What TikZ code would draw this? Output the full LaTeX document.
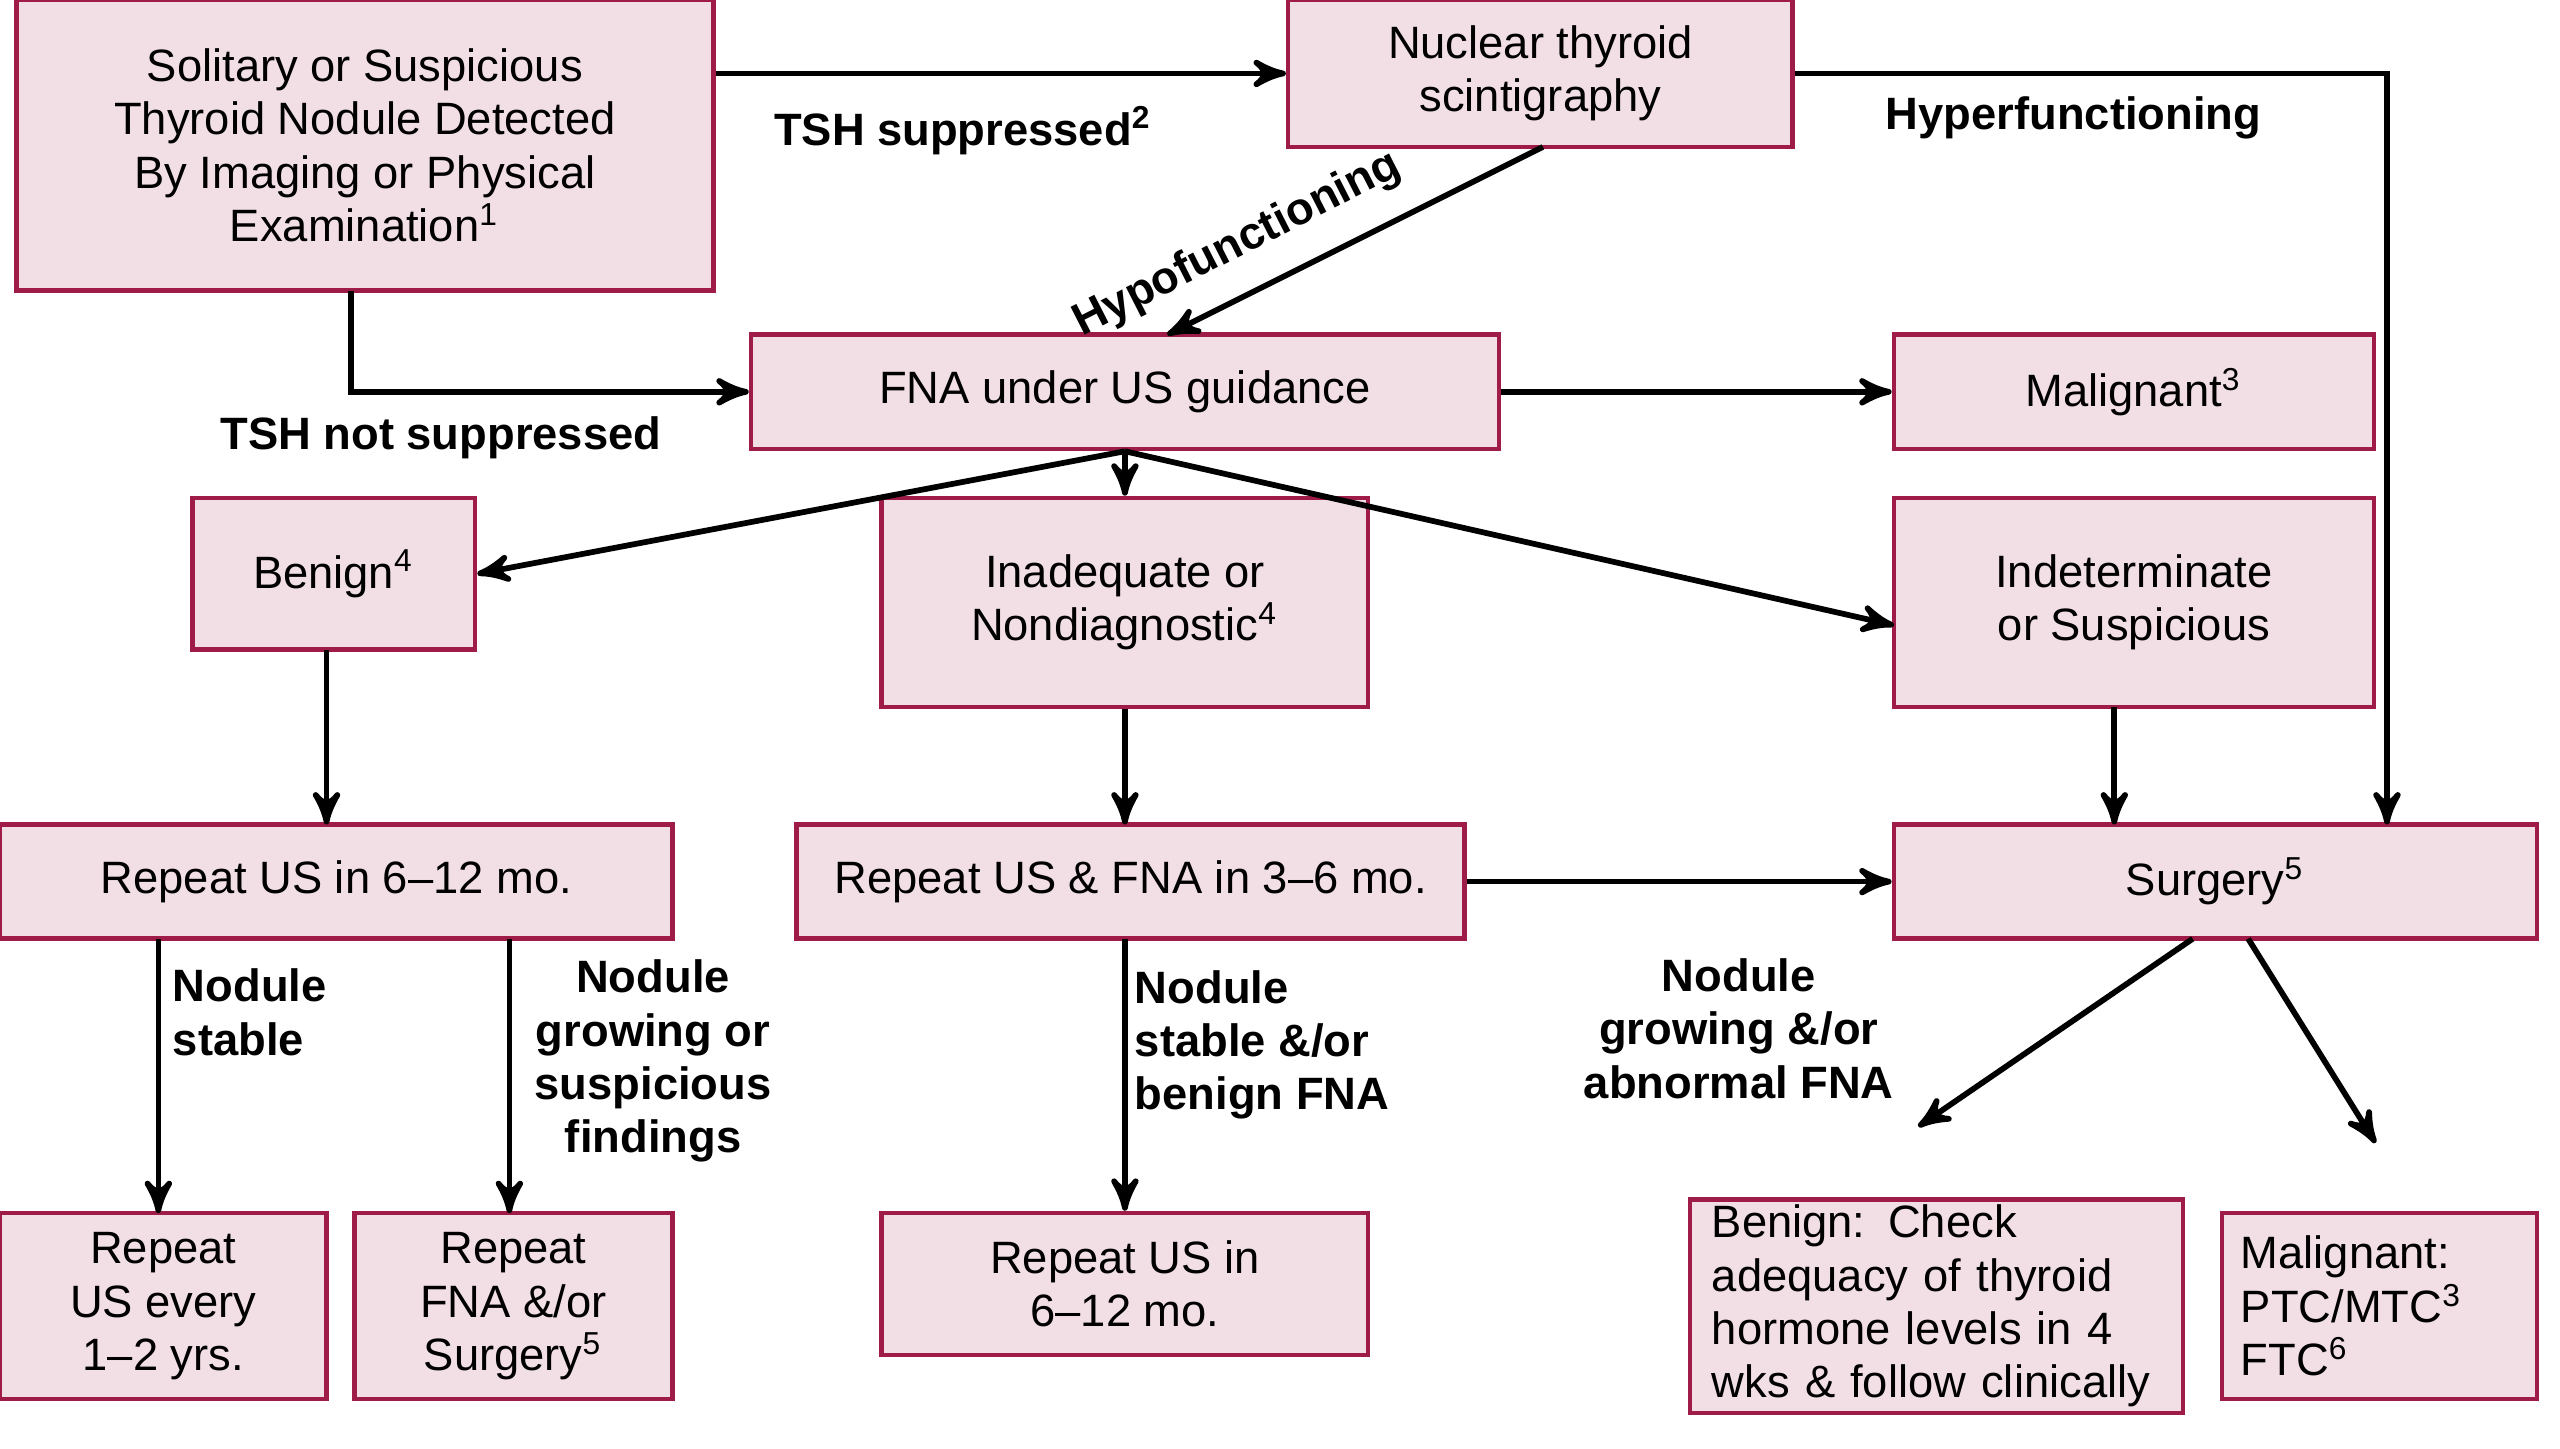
\documentclass[tikz,border=0pt]{standalone}
\usepackage{fontspec}
\setmainfont{Liberation Sans}
\usetikzlibrary{arrows}
\definecolor{boxfill}{RGB}{242,223,229}
\definecolor{boxline}{RGB}{160,28,72}
\newcommand{\sups}[1]{\textsuperscript{#1}}

\begin{document}
\begin{tikzpicture}[->,>=stealth',line width=1pt,
  box/.style={draw=boxline,fill=boxfill,line width=0.8pt,align=center,inner sep=2pt,
    font=\fontsize{7.9}{9.3}\selectfont},
  lbl/.style={font=\fontsize{7.9}{9.3}\selectfont\bfseries,align=center}]
  \useasboundingbox (0,0) rectangle (15.68,-8.87);

  \node[box,minimum width=4.27cm,minimum height=1.78cm] (sol) at (2.235,-0.89)
    {Solitary or Suspicious\\Thyroid Nodule Detected\\By Imaging or Physical\\Examination\sups{1}};
  \node[box,minimum width=3.09cm,minimum height=0.9cm] (nuc) at (9.435,-0.45) {Nuclear thyroid\\scintigraphy};
  \node[box,minimum width=4.58cm,minimum height=0.7cm] (fna) at (6.89,-2.40) {FNA under US guidance};
  \node[box,minimum width=2.94cm,minimum height=0.7cm] (mal) at (13.07,-2.40) {Malignant\sups{3}};
  \node[box,minimum width=1.73cm,minimum height=0.93cm] (ben) at (2.045,-3.515) {Benign\sups{4}};
  \node[box,minimum width=2.98cm,minimum height=1.28cm] (inad) at (6.89,-3.69) {Inadequate or\\Nondiagnostic\sups{4}};
  \node[box,minimum width=2.94cm,minimum height=1.28cm] (ind) at (13.07,-3.69) {Indeterminate\\or Suspicious};
  \node[box,minimum width=4.12cm,minimum height=0.7cm] (rus) at (2.06,-5.40) {Repeat US in 6--12 mo.};
  \node[box,minimum width=4.09cm,minimum height=0.7cm] (rfna) at (6.925,-5.40) {Repeat US \& FNA in 3--6 mo.};
  \node[box,minimum width=3.94cm,minimum height=0.7cm] (surg) at (13.57,-5.40) {Surgery\sups{5}};
  \node[box,minimum width=2.0cm,minimum height=1.14cm] (rev) at (1.0,-8.00) {Repeat\\US every\\1--2 yrs.};
  \node[box,minimum width=1.95cm,minimum height=1.14cm] (rfs) at (3.145,-8.00) {Repeat\\FNA \&/or\\Surgery\sups{5}};
  \node[box,minimum width=2.98cm,minimum height=0.87cm] (rus2) at (6.89,-7.865) {Repeat US in\\6--12 mo.};
  \node[box,minimum width=3.02cm,minimum height=1.14cm,align=left,text width=2.75cm,inner ysep=1pt] (bchk) at (11.86,-8.00)
    {Benign: Check\\adequacy of thyroid\\hormone levels in 4\\wks \& follow clinically};
  \node[box,minimum width=1.93cm,minimum height=1.14cm,align=left,text width=1.7cm] (mptc) at (14.575,-8.00)
    {Malignant:\\PTC/MTC\sups{3}\\FTC\sups{6}\\[\baselineskip]};

  % top row
  \draw (sol.east |- nuc.west) -- (nuc.west);
  \node[lbl] (tshs) at (5.9,-0.80) {TSH suppressed\sups{2}};
  \draw (nuc.east) -| (14.62,-0.45) -- (14.62,-5.05);
  \node[lbl] (hyper) at (12.70,-0.72) {Hyperfunctioning};
  \draw (9.45,-0.90) -- (7.15,-2.05);
  \node[lbl,rotate=27] (hypo) at (7.58,-1.50) {Hypofunctioning};
  \draw (2.15,-1.78) |- (fna.west);
  \node[lbl] (tshn) at (2.70,-2.68) {TSH not suppressed};
  \draw (fna.east) -- (mal.west);

  % FNA results
  \coordinate (fnab) at (fna.south);
  \draw (fnab) -- (ben.east);
  \draw (fnab) -- (inad.north);
  \draw (fnab) -- (11.60,-3.83);
  \draw (2.00,-3.98) -- (2.00,-5.05);
  \draw (inad.south) -- (6.89,-5.05);
  \draw (12.95,-4.33) -- (12.95,-5.05);
  \draw (rfna.east) -- (surg.west);
  \node[lbl] (grow) at (10.65,-6.30) {Nodule\\growing \&/or\\abnormal FNA};

  % follow-up
  \draw (0.97,-5.75) -- (0.97,-7.43);
  \node[lbl,align=left] (stab) at (1.53,-6.20) {Nodule\\stable};
  \draw (3.12,-5.75) -- (3.12,-7.43);
  \node[lbl] (susp) at (4.00,-6.50) {Nodule\\growing or\\suspicious\\findings};
  \draw (6.89,-5.75) -- (rus2.north);
  \node[lbl,align=left] (stfna) at (7.73,-6.40) {Nodule\\stable \&/or\\benign FNA};
  \draw (13.43,-5.75) -- (11.75,-6.90);
  \draw (13.77,-5.75) -- (14.55,-7.00);
\end{tikzpicture}
\end{document}
